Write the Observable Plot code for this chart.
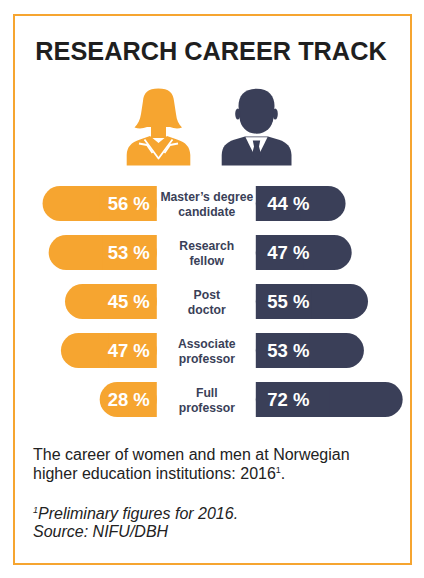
<!DOCTYPE html>
<html>
<head>
<meta charset="utf-8">
<script src="https://cdn.jsdelivr.net/npm/d3@7"></script>
<script src="https://cdn.jsdelivr.net/npm/@observablehq/plot@0.6"></script>
<style>
  html, body { margin: 0; padding: 0; background: #fff; overflow: hidden; }
  body { width: 424px; height: 578px; position: relative; font-family: "Liberation Sans", Arial, sans-serif; }
  #frame { position: absolute; left: 13px; top: 14px; width: 399px; height: 551px; box-sizing: border-box; border: 2px solid #F6A530; }
  #title { position: absolute; left: 0; width: 422px; top: 36px; text-align: center; font-size: 25.3px; line-height: 30px; font-weight: bold; color: #1f1f1f; }
  #icons { position: absolute; left: 0; top: 0; }
  #chart { position: absolute; left: 0; top: 180px; }
  #caption { position: absolute; left: 33px; top: 446px; font-size: 16px; line-height: 18.7px; color: #222; }
  #note { position: absolute; left: 33px; top: 505px; font-size: 16px; line-height: 18.3px; color: #222; font-style: italic; }
  sup { font-size: 9px; line-height: 0; }
</style>
</head>
<body>
<div id="frame"></div>
<div id="title">RESEARCH CAREER TRACK</div>
<svg id="icons" width="424" height="180" viewBox="0 0 424 180">
  <!-- woman -->
  <g fill="#F6A530">
    <path d="M158.3 88.5 C148 88.5 143.5 93 143 101 L141 114 C140 120 138 124 134.5 127.5 C139 129 143 128.5 147 127 L170 127 C174 128.5 178 129 182 127.5 C178.5 124 176.7 120 176 114 L174 101 C173.3 93 169 88.5 158.3 88.5 Z"/>
    <rect x="151" y="124" width="15" height="14"/>
    <path d="M126.7 165.5 L126.7 155 C127 147 131 142.5 140 139.5 L150 136 L158.5 143 L167 136 L177 139.5 C186 142.5 190 147 190.3 155 L190.3 165.5 Z"/>
  </g>
  <g fill="none" stroke="#fff" stroke-width="1.8" stroke-linejoin="round">
    <polyline points="144.5,139.5 158.5,158.5 172.5,139.5"/>
    <polyline points="139,143.5 147,145 152.5,153"/>
    <polyline points="178,143.5 170,145 164.5,153"/>
  </g>
  <!-- man -->
  <g fill="#3A3F58">
    <path d="M256.5 88.7 C244 88.7 238.5 96 238.5 106 L239.5 118 C240.5 127 247 133.7 256.5 133.7 C266 133.7 272.5 127 273.5 118 L274.5 106 C274.5 96 269 88.7 256.5 88.7 Z"/>
    <ellipse cx="237.8" cy="114" rx="2.6" ry="5.5"/>
    <ellipse cx="275.2" cy="114" rx="2.6" ry="5.5"/>
    <path d="M221.7 165.5 L221.7 155 C222 147 226 142.5 234 139.8 L245 136.5 L268 136.5 L279 139.8 C287 142.5 291 147 291.5 155 L291.5 165.5 Z"/>
  </g>
  <path d="M245.5 137.3 L267.5 137.3 L256.5 159.5 Z" fill="#fff"/>
  <path d="M252.8 140.5 L260.2 140.5 L259 146.5 L261.5 156 L256.5 161 L251.5 156 L254 146.5 Z" fill="#3A3F58"/>
</svg>
<div id="chart"></div>
<div id="caption">The career of women and men at Norwegian<br>higher education institutions: 2016<sup>1</sup>.</div>
<div id="note"><sup>1</sup>Preliminary figures for 2016.<br>Source: NIFU/DBH</div>
<script>
const categories = ["Master’s degree\ncandidate", "Research\nfellow", "Post\ndoctor", "Associate\nprofessor", "Full\nprofessor"];
const women = [56, 53, 45, 47, 28];
const men = [44, 47, 55, 53, 72];

const orange = "#F6A530";
const navy = "#3A3F58";
const data = categories.map((c, i) => ({cat: c, women: women[i], men: men[i]}));

const gap = 49.5;
const plot = Plot.plot({
  width: 424,
  height: 243,
  marginTop: 5,
  marginBottom: 5,
  marginLeft: 2.3,
  marginRight: 13.7,
  x: {domain: [-100, 100], axis: null},
  y: {domain: categories, paddingInner: 0.293, paddingOuter: 0, align: 0.5, axis: null},
  style: {fontFamily: "'Liberation Sans', Arial, sans-serif", background: "transparent", overflow: "visible"},
  marks: [
    Plot.barX(data, {y: "cat", x1: () => 0, x2: d => -d.women, fill: orange, rx: 17.5, dx: -gap}),
    Plot.barX(data, {y: "cat", x1: () => 0, x2: d => -d.women / 2, fill: orange, dx: -gap}),
    Plot.barX(data, {y: "cat", x1: () => 0, x2: d => d.men, fill: navy, rx: 17.5, dx: gap}),
    Plot.barX(data, {y: "cat", x1: () => 0, x2: d => d.men / 2, fill: navy, dx: gap}),
    Plot.text(data, {y: "cat", x: () => 0, text: d => `${d.women} %`, dx: -gap - 7.5, textAnchor: "end", fill: "white", fontSize: 18.5, fontWeight: "bold"}),
    Plot.text(data, {y: "cat", x: () => 0, text: d => `${d.men} %`, dx: gap + 11, textAnchor: "start", fill: "white", fontSize: 18.5, fontWeight: "bold"}),
    Plot.text(data, {y: "cat", x: () => 0, text: "cat", fill: navy, fontSize: 12.2, fontWeight: "bold", lineHeight: 1.17})
  ]
});
document.getElementById("chart").appendChild(plot);
</script>
</body>
</html>
